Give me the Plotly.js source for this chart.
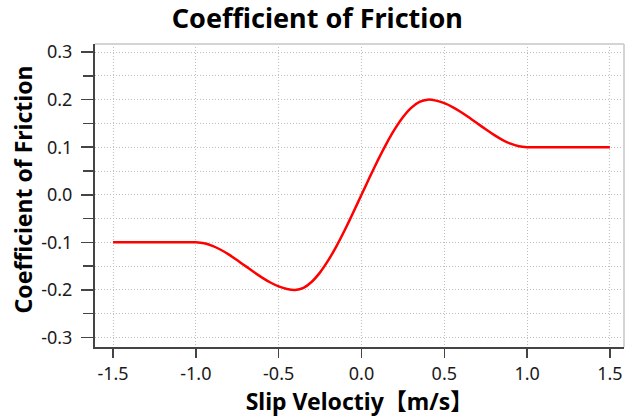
<!DOCTYPE html>
<html>
<head>
<meta charset="utf-8">
<script src="https://cdn.plot.ly/plotly-3.0.1.min.js"></script>
<style>html,body{margin:0;padding:0;background:#fff;}#chart{width:641px;height:419px;}</style>
</head>
<body>
<div id="chart"></div>
<script>
// Slip velocity [m/s]
const slipVelocity = [
  -1.5, -1.4, -1.3, -1.2, -1.1, -1.0,
  -0.95, -0.9, -0.85, -0.8, -0.75, -0.7, -0.65, -0.6, -0.55, -0.5, -0.45, -0.4,
  -0.35, -0.3, -0.25, -0.2, -0.15, -0.1, -0.05, 0.0,
  0.05, 0.1, 0.15, 0.2, 0.25, 0.3, 0.35, 0.4,
  0.45, 0.5, 0.55, 0.6, 0.65, 0.7, 0.75, 0.8, 0.85, 0.9, 0.95, 1.0,
  1.1, 1.2, 1.3, 1.4, 1.5
];
// Coefficient of friction
const frictionCoef = [
  -0.1, -0.1, -0.1, -0.1, -0.1, -0.1,
  -0.102, -0.1074, -0.1156, -0.1259, -0.1376, -0.15, -0.1624, -0.1741, -0.1844, -0.1926, -0.198, -0.2,
  -0.1955, -0.1828, -0.1631, -0.1375, -0.1072, -0.0734, -0.0373, 0.0,
  0.0373, 0.0734, 0.1072, 0.1375, 0.1631, 0.1828, 0.1955, 0.2,
  0.198, 0.1926, 0.1844, 0.1741, 0.1624, 0.15, 0.1376, 0.1259, 0.1156, 0.1074, 0.102, 0.1,
  0.1, 0.1, 0.1, 0.1, 0.1
];
const xTickVals = [-1.5, -1.0, -0.5, 0.0, 0.5, 1.0, 1.5];
const xTickText = ["-1.5", "-1.0", "-0.5", "0.0", "0.5", "1.0", "1.5"];
const yTickVals = [-0.3, -0.2, -0.1, 0.0, 0.1, 0.2, 0.3];
const yTickText = ["-0.3", "-0.2", "-0.1", "0.0", "0.1", "0.2", "0.3"];
const chartTitle = 'Coefficient of Friction';
const xTitle = 'Slip Veloctiy【m/s】';
const yTitle = 'Coefficient of Friction';

const fontFam = '"Noto Sans", "Open Sans", "Noto Sans CJK SC", sans-serif';
const gridCol = '#bdbdbd';
const gridDash = '1px,2px';

const trace = {
  x: slipVelocity,
  y: frictionCoef,
  type: 'scatter',
  mode: 'lines',
  line: {color: '#ff0000', width: 2.5, shape: 'spline', smoothing: 0.6},
  hoverinfo: 'skip'
};

const layout = {
  width: 641, height: 419,
  margin: {l: 95, r: 17, t: 44, b: 72},
  paper_bgcolor: '#ffffff', plot_bgcolor: '#ffffff',
  showlegend: false,
  font: {family: fontFam, color: '#1a1a1a', size: 18},
  title: {text: chartTitle, x: 0.495, xanchor: 'center', yref: 'container', y: 0.956, yanchor: 'middle',
          font: {family: fontFam, size: 27, color: '#000', weight: 'bold'}},
  xaxis: {
    range: [-1.609, 1.585],
    tickmode: 'array', tickvals: xTickVals, ticktext: xTickText,
    ticks: 'outside', ticklen: 9, tickwidth: 1.5, tickcolor: '#444',
    showline: true, linecolor: '#444', linewidth: 2,
    showgrid: true, gridcolor: gridCol, griddash: gridDash, gridwidth: 1,
    zeroline: false,
    tickfont: {family: fontFam, size: 18, color: '#1a1a1a'},
    title: {text: xTitle, standoff: 5,
            font: {family: fontFam, size: 23, color: '#000', weight: 'bold'}}
  },
  yaxis: {
    range: [-0.32, 0.317],
    tickmode: 'array', tickvals: yTickVals, ticktext: yTickText,
    ticks: 'outside', ticklen: 12, tickwidth: 1.5, tickcolor: '#444',
    ticklabelstandoff: 5,
    minor: {dtick: 0.05, tick0: 0, ticks: 'outside', ticklen: 10, tickwidth: 1.5, tickcolor: '#444',
            showgrid: true, gridcolor: gridCol, griddash: gridDash, gridwidth: 1},
    showline: true, linecolor: '#444', linewidth: 2,
    showgrid: true, gridcolor: gridCol, griddash: gridDash, gridwidth: 1,
    zeroline: false,
    tickfont: {family: fontFam, size: 18, color: '#1a1a1a'}
  },
  annotations: [
    {text: yTitle, xref: 'paper', yref: 'paper', x: -0.136, y: 0.52, xanchor: 'center', yanchor: 'middle',
     textangle: -90, showarrow: false,
     font: {family: fontFam, size: 23, color: '#000', weight: 'bold'}}
  ],
  shapes: [
    {type: 'line', xref: 'paper', yref: 'paper', x0: 0, x1: 1, y0: 1, y1: 1, line: {color: '#d4d4d4', width: 2}},
    {type: 'line', xref: 'paper', yref: 'paper', x0: 1, x1: 1, y0: 0, y1: 1, line: {color: '#d4d4d4', width: 2}}
  ]
};

Plotly.newPlot('chart', [trace], layout, {displayModeBar: false, staticPlot: true});
</script>
</body>
</html>
